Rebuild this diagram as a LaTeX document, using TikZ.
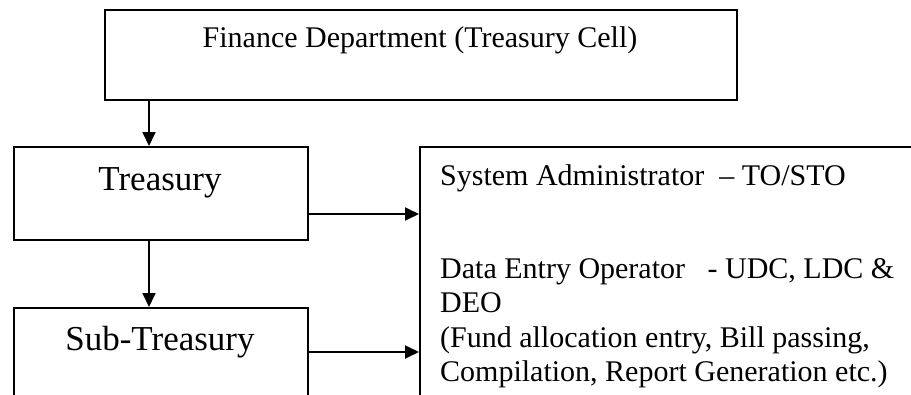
\documentclass[tikz,border=0pt]{standalone}
\usepackage{fontspec}
\setmainfont{Liberation Serif}
\usetikzlibrary{arrows.meta,calc}
\begin{document}
\begin{tikzpicture}[x=1pt,y=-1pt,
  box/.style={draw=black,line width=1.8pt,inner sep=0pt,anchor=north west},
  arr/.style={line width=1.8pt,-{Triangle[width=13pt,length=14pt]}},
  smalltxt/.style={inner sep=0pt,font=\fontsize{30pt}{34.5pt}\selectfont},
  bigtxt/.style={inner sep=0pt,font=\fontsize{35pt}{40pt}\selectfont},
  lefttxt/.style={smalltxt,anchor=base west}]
\useasboundingbox (0,0) rectangle (911,394);
\clip (0,0) rectangle (911,394);
% boxes
\node[box,minimum width=632pt,minimum height=90pt] (fin) at (104,9) {};
\node[box,minimum width=294pt,minimum height=93pt] (tre) at (13,146) {};
\node[box,minimum width=294pt,minimum height=130pt] (sub) at (13,307) {};
\node[box,minimum width=560pt,minimum height=300pt] (rb) at (419,146) {};
% texts
\node[smalltxt,anchor=base] (fint) at (420,47) {Finance Department (Treasury Cell)};
\node[bigtxt,anchor=base] (tret) at (160,190) {Treasury};
\node[bigtxt,anchor=base] (subt) at (160,350) {Sub-Treasury};
\node[lefttxt] (l1) at (440,185) {System Administrator\ \ – TO/STO};
\node[lefttxt] (l2) at (440,278) {Data Entry Operator\ \ \ - UDC, LDC \&};
\node[lefttxt] (l3) at (440,312.5) {DEO};
\node[lefttxt] (l4) at (440,347) {(Fund allocation entry, Bill passing,};
\node[lefttxt] (l5) at (440,381.5) {Compilation, Report Generation etc.)};
% connector helpers
\coordinate (ax) at (149,0);
\coordinate (ay1) at (0,214);
\coordinate (ay2) at (0,352);
% connectors
\draw[arr] (fin.south -| ax) -- (tre.north -| ax);
\draw[arr] (tre.south -| ax) -- (sub.north -| ax);
\draw[arr] (tre.east |- ay1) -- (rb.west |- ay1);
\draw[arr] (sub.east |- ay2) -- (rb.west |- ay2);
\end{tikzpicture}
\end{document}
